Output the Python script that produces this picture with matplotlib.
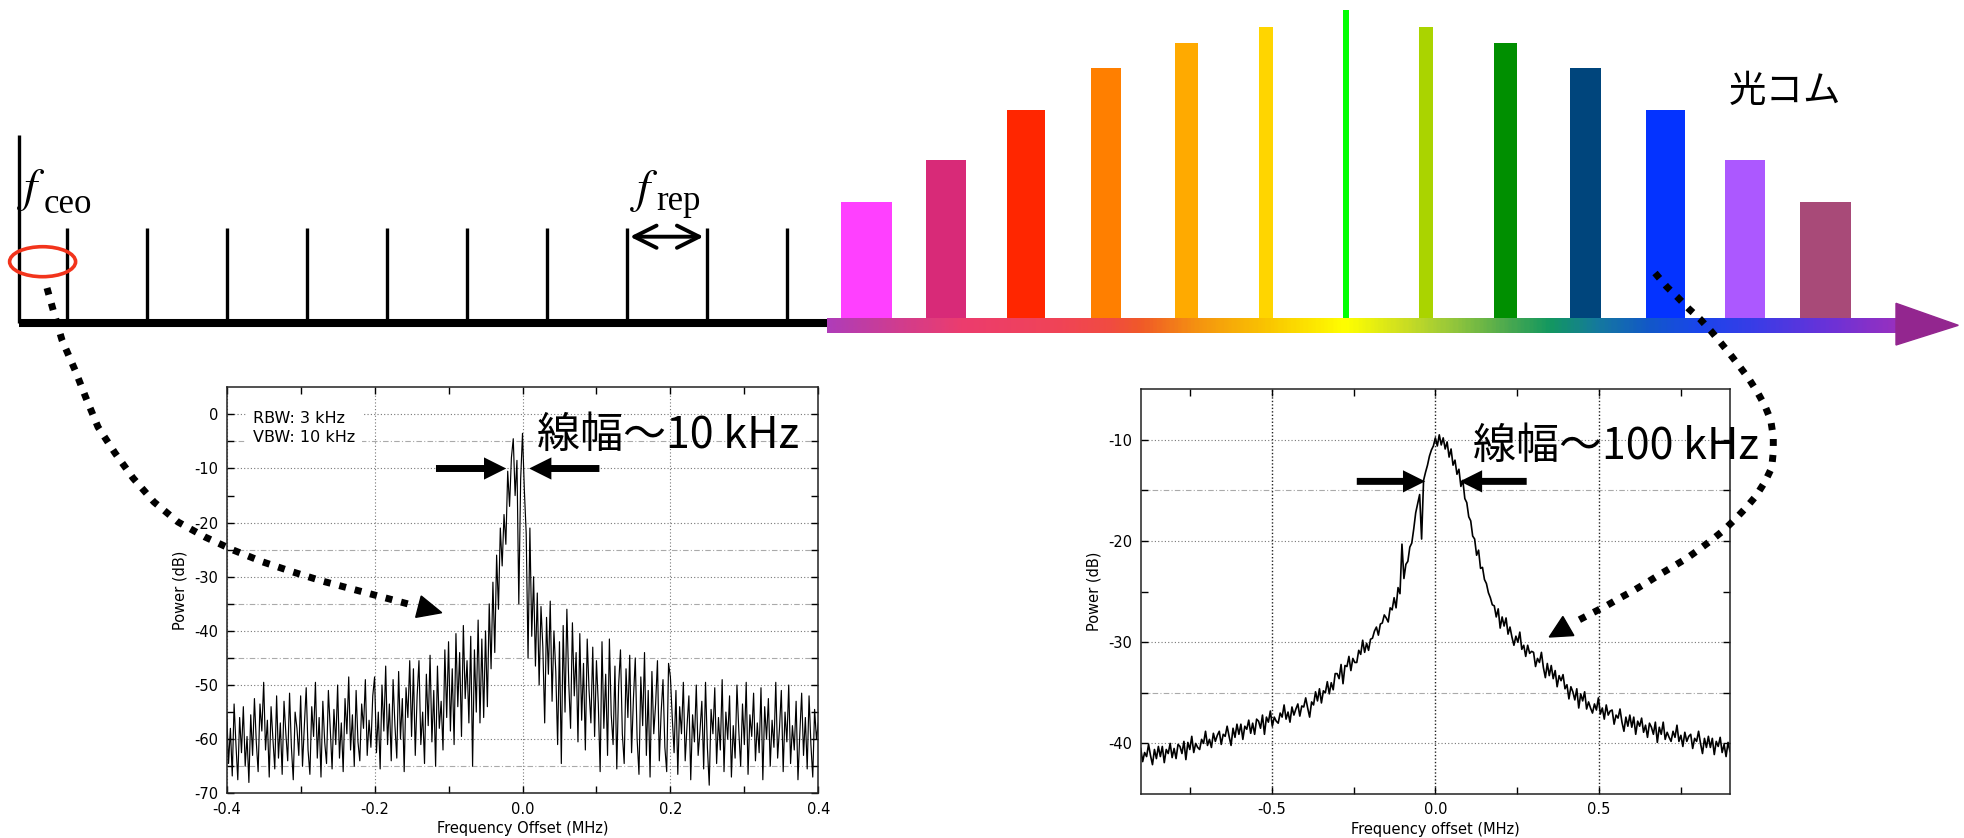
import numpy as np
import matplotlib
matplotlib.use("Agg")
import matplotlib.pyplot as plt
from matplotlib.colors import LinearSegmentedColormap
from matplotlib.patches import Ellipse, Polygon
from matplotlib.ticker import FormatStrFormatter

plt.rcParams['font.family'] = ['DejaVu Sans']
plt.rcParams['axes.unicode_minus'] = False
JP = ['Noto Sans CJK JP', 'DejaVu Sans']
SERIF = ['Liberation Serif', 'DejaVu Serif']

# ---- comb diagram (frequency in units of f_rep) ----
n_black = 10
f_ceo = 0.607
tooth_h = 95
origin_h = 188
mode_heights = [121, 163, 213, 255, 280, 296, 313, 296, 280, 255, 213, 163, 121]
mode_colors = ['#FF40FF', '#D82A78', '#FF2600', '#FF7F00', '#FFAA00', '#FFD500', '#00FF00',
               '#AAD400', '#008F00', '#00457C', '#0433FF', '#AC58FF', '#A84A78']
mode_widths = [0.64, 0.50, 0.48, 0.38, 0.29, 0.18, 0.07, 0.18, 0.29, 0.38, 0.48, 0.50, 0.64]

# rainbow of the frequency axis
band_stops = [(826.7, '#B03CB8'), (900, '#D23C8C'), (960, '#EC3C6E'), (1060, '#F04456'),
              (1110, '#F04C40'), (1140, '#F05A28'), (1200, '#F5960F'), (1270, '#FAC800'),
              (1345, '#FFFF00'), (1400, '#D0E020'), (1450, '#98C83A'), (1510, '#48A850'),
              (1550, '#139860'), (1600, '#1578A0'), (1650, '#1258C8'), (1700, '#1A45EC'),
              (1760, '#3C3CE6'), (1830, '#6A32D8'), (1896, '#9630C0')]

# ---- beat spectra ----
# f_ceo beat, -0.4 .. 0.4 MHz
ceo_power = [
    -55.0, -64.5, -58.0, -66.8, -53.5, -61.0, -67.5, -56.0, -62.5, -54.0,
    -65.0, -59.5, -68.0, -55.5, -63.0, -52.5, -60.5, -66.0, -53.5, -58.5,
    -49.5, -62.0, -56.5, -67.0, -54.0, -60.0, -65.5, -52.0, -63.5, -57.0,
    -66.5, -53.0, -59.0, -64.0, -51.5, -61.5, -67.5, -55.0, -58.0, -63.0,
    -52.0, -65.0, -57.5, -50.5, -62.0, -66.5, -54.0, -59.5, -49.5, -63.5,
    -56.0, -67.0, -53.0, -60.5, -64.5, -51.0, -58.0, -65.5, -54.5, -61.0,
    -50.0, -63.5, -57.0, -66.0, -52.5, -59.0, -48.5, -62.0, -55.5, -65.0,
    -51.0, -60.5, -64.0, -53.5, -58.0, -49.0, -63.0, -56.5, -61.5, -52.0,
    -48.5, -62.5, -55.0, -65.5, -50.0, -58.5, -46.5, -61.0, -53.5, -64.0,
    -49.0, -57.5, -63.5, -47.5, -60.0, -52.5, -66.0, -50.5, -56.0, -45.5,
    -59.5, -47.0, -63.0, -52.0, -45.5, -61.0, -55.0, -64.5, -48.0, -57.5,
    -44.5, -60.5, -51.0, -65.0, -46.5, -58.0, -53.0, -62.0, -43.5, -56.0,
    -42.0, -58.5, -47.0, -61.0, -40.5, -54.0, -44.0, -59.5, -39.0, -52.5,
    -45.5, -57.0, -41.0, -65.0, -43.5, -55.0, -38.0, -57.0, -41.5, -56.0,
    -40.0, -54.0, -35.0, -47.0, -31.0, -44.0, -26.0, -36.0, -21.0, -28.0,
    -18.5, -24.0, -10.5, -17.0, -8.0, -4.5, -15.0, -8.5, -35.0, -12.0,
    -3.5, -14.0, -22.0, -45.0, -21.0, -41.0, -30.0, -46.5, -33.0, -50.0,
    -35.5, -43.0, -57.0, -37.5, -48.0, -34.5, -53.0, -40.0, -47.5, -61.0,
    -42.0, -64.5, -39.0, -55.0, -36.0, -49.5, -58.0, -38.5, -52.0, -44.0,
    -60.5, -40.5, -56.5, -46.0, -62.0, -41.5, -51.0, -57.0, -43.0, -59.5,
    -45.5, -53.5, -66.0, -42.0, -58.0, -48.0, -63.0, -41.5, -55.5, -61.0,
    -46.5, -65.5, -50.0, -43.5, -59.0, -64.5, -47.0, -56.0, -44.5, -62.5,
    -52.5, -45.0, -60.0, -66.5, -48.5, -57.5, -44.0, -63.0, -51.0, -67.0,
    -47.5, -59.0, -53.5, -45.5, -64.0, -55.0, -49.0, -61.5, -66.0, -46.0,
    -48.5, -56.0, -62.5, -51.0, -66.5, -54.0, -59.0, -49.5, -64.0, -57.5,
    -52.0, -67.5, -55.5, -60.5, -50.0, -63.0, -58.5, -53.0, -65.5, -49.5,
    -61.5, -68.5, -54.5, -59.0, -50.5, -64.5, -56.0, -62.0, -49.0, -66.0,
    -55.0, -60.0, -52.0, -67.0, -57.5, -63.5, -50.0, -58.5, -65.0, -53.5,
    -61.0, -49.5, -66.5, -55.5, -59.5, -51.5, -64.0, -57.0, -62.5, -50.5,
    -67.5, -54.0, -60.0, -52.5, -65.0, -56.5, -61.5, -49.5, -63.5, -58.0,
    -51.0, -66.0, -55.0, -60.5, -50.0, -64.5, -57.5, -62.0, -53.0, -67.5,
    -59.0, -51.5, -63.0, -56.0, -65.5, -52.0, -61.0, -67.0, -54.5, -60.0, -57.0,
]

# optical beat against the comb mode, -0.9 .. 0.9 MHz
rep_power = [
    -40.5, -41.8, -40.9, -41.3, -40.1, -41.2, -42.1, -40.6, -41.5, -40.3,
    -41.3, -40.3, -41.9, -40.6, -41.0, -40.0, -41.4, -40.5, -41.5, -40.1,
    -40.3, -41.0, -39.8, -41.6, -39.9, -40.6, -39.3, -40.9, -40.0, -40.4,
    -40.6, -39.6, -40.0, -38.8, -40.2, -39.6, -40.4, -39.0, -39.8, -39.2,
    -38.8, -40.1, -39.1, -39.3, -38.3, -39.3, -40.2, -38.5, -39.4, -38.1,
    -39.1, -38.1, -39.6, -38.3, -38.6, -37.7, -39.0, -38.0, -39.1, -37.6,
    -37.8, -38.5, -37.2, -39.1, -37.4, -37.9, -36.8, -38.3, -37.4, -37.8,
    -38.0, -37.0, -37.4, -36.2, -37.6, -36.9, -37.9, -36.4, -37.2, -36.6,
    -36.1, -37.3, -36.3, -36.4, -35.5, -36.5, -37.4, -35.9, -36.2, -34.9,
    -35.8, -34.6, -36.0, -34.8, -35.0, -33.9, -35.1, -34.0, -34.7, -33.1,
    -33.1, -33.6, -32.2, -34.1, -32.3, -32.4, -31.4, -32.8, -31.6, -32.0,
    -32.0, -30.8, -31.2, -29.8, -31.0, -30.1, -30.8, -29.7, -29.6, -28.9,
    -28.5, -29.3, -28.2, -28.1, -27.3, -27.6, -28.0, -26.6, -26.8, -25.6,
    -26.6, -24.6, -25.2, -20.3, -23.7, -22.3, -22.0, -20.6, -20.2, -18.8,
    -17.2, -16.3, -15.4, -19.8, -14.0, -13.2, -12.5, -11.6, -11.0, -10.6,
    -9.8, -10.6, -9.5, -10.5, -9.8, -10.9, -10.2, -11.7, -10.9, -12.5,
    -12.0, -13.4, -12.9, -14.6, -14.0, -15.8, -16.2, -17.6, -18.0, -19.5,
    -19.8, -21.4, -20.9, -22.7, -22.6, -23.8, -24.2, -25.1, -25.6, -26.3,
    -26.4, -27.5, -26.7, -28.6, -27.5, -28.4, -27.6, -29.2, -28.5, -29.5,
    -30.3, -29.4, -30.0, -29.0, -30.7, -30.3, -31.4, -30.3, -31.1, -30.9,
    -31.0, -32.4, -31.6, -32.0, -31.0, -32.5, -33.5, -32.1, -33.3, -32.3,
    -33.6, -32.8, -34.4, -33.3, -33.8, -33.2, -34.6, -34.2, -35.6, -34.4,
    -34.9, -35.7, -34.6, -36.5, -35.1, -35.8, -34.9, -36.6, -35.9, -36.5,
    -37.0, -36.1, -36.7, -35.5, -37.1, -36.5, -37.6, -36.2, -37.2, -36.8,
    -36.7, -38.1, -37.2, -37.5, -36.6, -37.9, -38.8, -37.4, -38.3, -37.2,
    -38.4, -37.4, -39.1, -37.8, -38.3, -37.5, -38.9, -38.2, -39.4, -38.0,
    -38.4, -39.1, -37.9, -39.9, -38.4, -39.1, -37.9, -39.6, -38.9, -39.4,
    -39.8, -38.8, -39.4, -38.2, -39.8, -39.2, -40.3, -38.9, -39.8, -39.3,
    -39.1, -40.5, -39.5, -39.8, -38.8, -40.0, -41.0, -39.5, -40.4, -39.3,
    -40.4, -39.5, -41.1, -39.8, -40.3, -39.4, -40.9, -40.1, -41.3, -39.9, -40.8,
]

ceo_freq = np.linspace(-0.4, 0.4, len(ceo_power))
rep_freq = np.linspace(-0.9, 0.9, len(rep_power))

W, H = 1964, 838
fig = plt.figure(figsize=(W / 100, H / 100), dpi=100)


def box(l, t, r, b):
    return [l / W, 1 - b / H, (r - l) / W, (b - t) / H]


# comb axes: x in units of f_rep, y in pixels above the baseline
px_per_frep = 79.9
axc = fig.add_axes([0, 0, 1, 1], zorder=0)
axc.axis('off')
axc.vlines(0, 0, origin_h, color='k', lw=2.4)
axc.vlines(f_ceo + np.arange(n_black), 0, tooth_h, color='k', lw=2.4)
x_band0 = (826.7 - 19) / px_per_frep
x_band1 = (1896 - 19) / px_per_frep
axc.hlines(0, 0, x_band0, color='k', lw=5.8, capstyle='butt')
axc.bar(f_ceo + n_black + np.arange(len(mode_heights)), mode_heights,
        width=mode_widths, color=mode_colors, zorder=1)
pos = [(p - band_stops[0][0]) / (band_stops[-1][0] - band_stops[0][0]) for p, _ in band_stops]
cmap = LinearSegmentedColormap.from_list('band', list(zip(pos, [c for _, c in band_stops])))
axc.imshow(np.linspace(0, 1, 600)[None, :], cmap=cmap, aspect='auto',
           extent=(x_band0, x_band1, -10, 5), interpolation='bilinear', zorder=2)
axc.add_patch(Polygon([(x_band1, 20), (x_band1, -21.7), (x_band1 + 0.78, -2)],
                      closed=True, color='#93268F', zorder=2))
axc.set_xlim(-19 / px_per_frep, (W - 19) / px_per_frep)
axc.set_ylim(323.3 - H, 323.3)

# left spectrum
ax1 = fig.add_axes(box(226.7, 387.3, 818.3, 793.3), zorder=5)
ax1.plot(ceo_freq, ceo_power, color='k', lw=0.85)
ax1.set_xlim(-0.4, 0.4)
ax1.set_ylim(-70, 5)
ax1.set_xticks(np.arange(-0.4, 0.41, 0.2))
ax1.set_xticks(np.arange(-0.3, 0.4, 0.2), minor=True)
ax1.set_yticks(np.arange(-70, 1, 10))
ax1.set_yticks(np.arange(-65, 5, 10), minor=True)
ax1.xaxis.set_major_formatter(FormatStrFormatter('%.1f'))
ax1.grid(True, which='major', ls=(0, (1, 2)), color='#777777', lw=0.8)
for v in [-65, -45, -35, -25, -5]:
    ax1.axhline(v, ls=(0, (5, 2, 1, 2)), color='#aaaaaa', lw=0.8, zorder=0.5)
ax1.set_xlabel('Frequency Offset (MHz)', fontsize=10.5, labelpad=3)
ax1.set_ylabel('Power (dB)', fontsize=10.5, labelpad=5)
ax1.text(-0.364, 0.7, 'RBW: 3 kHz\nVBW: 10 kHz', fontsize=11.5, va='top', ha='left',
         linespacing=1.4, bbox=dict(fc='white', ec='none', pad=5))
ax1.text(0.02, -3.9, '線幅～10 kHz', family=JP, fontsize=31, va='center', ha='left')

# right spectrum
ax2 = fig.add_axes(box(1140.7, 389.3, 1730, 794), zorder=5)
ax2.plot(rep_freq, rep_power, color='k', lw=1.2)
ax2.set_xlim(-0.9, 0.9)
ax2.set_ylim(-45, -5)
ax2.set_xticks([-0.5, 0.0, 0.5])
ax2.set_xticks([-0.75, -0.25, 0.25, 0.75], minor=True)
ax2.set_yticks([-40, -30, -20, -10])
ax2.set_yticks([-35, -25, -15], minor=True)
ax2.xaxis.set_major_formatter(FormatStrFormatter('%.1f'))
ax2.xaxis.grid(True, which='major', ls=(0, (1, 1.5)), color='#222222', lw=1.0)
ax2.yaxis.grid(True, which='major', ls=(0, (1, 2)), color='#777777', lw=0.8)
for v in [-35, -15]:
    ax2.axhline(v, ls=(0, (5, 2, 1, 2)), color='#aaaaaa', lw=0.8, zorder=0.5)
ax2.set_xlabel('Frequency offset (MHz)', fontsize=10.5, labelpad=3)
ax2.set_ylabel('Power (dB)', fontsize=10.5, labelpad=5)
ax2.text(0.115, -10.7, '線幅～100 kHz', family=JP, fontsize=31, va='center', ha='left')

for ax in (ax1, ax2):
    ax.set_axisbelow(True)
    ax.tick_params(which='both', direction='in', top=True, right=True,
                   length=5, width=1, labelsize=10.5, pad=6)
    for s in ax.spines.values():
        s.set_linewidth(1.1)
        s.set_color('#222222')

# linewidth arrows
arrow_kw = dict(arrowstyle='simple,head_length=1.6,head_width=1.6,tail_width=0.5',
                fc='k', ec='none', mutation_scale=10, shrinkA=0, shrinkB=0)
ax1.annotate('', xy=(-0.022, -10), xytext=(-0.117, -10), arrowprops=arrow_kw)
ax1.annotate('', xy=(0.009, -10), xytext=(0.104, -10), arrowprops=arrow_kw)
ax2.annotate('', xy=(-0.031, -14.1), xytext=(-0.240, -14.1), arrowprops=arrow_kw)
ax2.annotate('', xy=(0.075, -14.1), xytext=(0.279, -14.1), arrowprops=arrow_kw)

# overlay in pixel coordinates for labels and the dotted pointers
ov = fig.add_axes([0, 0, 1, 1], zorder=10)
ov.set_xlim(0, W)
ov.set_ylim(H, 0)
ov.axis('off')

ov.text(17, 201, r'$f$', math_fontfamily='stix', fontsize=34, va='baseline', ha='left')
ov.text(44, 213, 'ceo', family=SERIF, fontsize=25, va='baseline', ha='left')
ov.text(630, 202, r'$f$', math_fontfamily='stix', fontsize=34, va='baseline', ha='left')
ov.text(656, 210, 'rep', family=SERIF, fontsize=25, va='baseline', ha='left')
ov.annotate('', xy=(703.5, 236.7), xytext=(630, 236.7),
            arrowprops=dict(arrowstyle='<->,head_length=0.8,head_width=0.4', lw=2.8,
                            color='k', shrinkA=0, shrinkB=0, mutation_scale=20))
ov.add_patch(Ellipse((42.6, 261.7), 66, 30, fill=False, ec='#F2341C', lw=2.6))
ov.text(1785, 91, '光コム', family=JP, fontsize=27, va='center', ha='center')


def head(ax, tip, frm, length=24, width=22):
    tip = np.array(tip, float)
    d = tip - np.array(frm, float)
    d /= np.hypot(*d)
    n = np.array([-d[1], d[0]])
    base = tip - d * length
    ax.add_patch(Polygon([tip, base + n * width / 2, base - n * width / 2],
                         closed=True, color='k'))


dot_kw = dict(color='k', lw=5, ls=(0, (1.0, 1.3)), dash_capstyle='butt')

left_path = np.array([(47, 288), (54, 313), (62, 340), (75, 370), (86, 398), (98, 427),
                      (115, 453), (133, 478), (154, 502), (178, 522), (205, 537),
                      (233, 550), (263, 562), (293, 572), (322, 581), (352, 589),
                      (382, 597), (412, 605)])
ov.plot(left_path[:, 0], left_path[:, 1], **dot_kw)
head(ov, (441.7, 612.7), (412, 605))

right_path = np.array([(1655, 273), (1666.7, 286.7), (1678, 297.7), (1689, 309),
                       (1700, 319), (1710.7, 330.7), (1720.7, 342.7), (1730.7, 355),
                       (1740, 367), (1749, 379), (1757.7, 392.7), (1765, 406),
                       (1770.7, 420), (1773.3, 436.7), (1773.3, 451.7), (1771.7, 467.7),
                       (1765, 481.7), (1756, 496), (1746, 507.7), (1735, 519.3),
                       (1724, 530), (1711.7, 540), (1699.3, 549.3), (1686.7, 558.3),
                       (1674, 566), (1660, 574.3), (1646.7, 582.7), (1633.3, 590.7),
                       (1619.3, 598.3), (1606, 606), (1591.7, 613.3), (1577, 621)])
ov.plot(right_path[:, 0], right_path[:, 1], **dot_kw)
head(ov, (1549.3, 637), (1577, 621), length=22)

fig.savefig('out.png', dpi=100)
